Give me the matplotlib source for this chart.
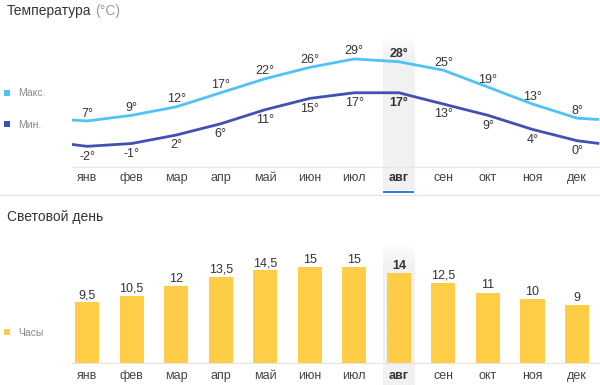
import numpy as np
import matplotlib
matplotlib.use("Agg")
import matplotlib.pyplot as plt
from matplotlib.patches import Rectangle
from matplotlib.text import Annotation

plt.rcParams['font.family'] = ['Liberation Sans', 'DejaVu Sans']

months = ['янв', 'фев', 'мар', 'апр', 'май', 'июн', 'июл', 'авг', 'сен', 'окт', 'ноя', 'дек']
t_max = [7, 9, 12, 17, 22, 26, 29, 28, 25, 19, 13, 8]
t_min = [-2, -1, 2, 6, 11, 15, 17, 17, 13, 9, 4, 0]
daylight = [9.5, 10.5, 12, 13.5, 14.5, 15, 15, 14, 12.5, 11, 10, 9]
daylight_labels = ['9,5', '10,5', '12', '13,5', '14,5', '15', '15', '14', '12,5', '11', '10', '9']
highlight = 7  # август

W, H = 600, 385
fig = plt.figure(figsize=(6, 3.85), dpi=100)

def fy(py):
    return 1 - py / H

C_MAX = '#4fc3f7'
C_MIN = '#3f51b5'
C_BAR = '#ffcd46'
C_TXT = '#333333'
C_LEG = '#8a8a8a'
C_GRID = '#e6e6e6'
C_HL = '#f1f1f1'

x = np.arange(12)
xl = (-0.3367, 11.515)

def add_highlight(ax, y0, y1, fade):
    img = np.ones((100, 1, 4))
    img[..., :3] = matplotlib.colors.to_rgb(C_HL)
    img[:, 0, 3] = np.clip(np.linspace(0, 1, 100) / fade, 0, 1)
    ax.imshow(img, extent=(highlight - 0.35, highlight + 0.35, y1, y0), origin='upper',
              aspect='auto', zorder=0, interpolation='bilinear')

# ---------- Temperature ----------
ax = fig.add_axes([72 / W, fy(196), 528 / W, (196 - 38) / H])
ax.set_xlim(*xl)
ylo, yhi = (140.7 - 196) / 2.82, (140.7 - 38) / 2.82
ax.set_ylim(ylo, yhi)
ax.axis('off')

t_axis = (140.7 - 167) / 2.82
t_lab = (140.7 - 181) / 2.82
t_ul0, t_ul1 = (140.7 - 193) / 2.82, (140.7 - 190.5) / 2.82

add_highlight(ax, yhi, t_ul1, 0.12)
ax.axhline(t_axis, color=C_GRID, lw=0.9, zorder=1)
ax.add_patch(Rectangle((highlight - 0.35, t_ul0), 0.7, t_ul1 - t_ul0, color='#2f80e0', lw=0, zorder=3))

xe = np.concatenate([[-0.5], x, [11.5]])
edge_max = (t_max[0] + t_max[-1]) / 2
edge_min = (t_min[0] + t_min[-1]) / 2
ax.plot(xe, [edge_max] + t_max + [edge_max], color=C_MAX, lw=2, zorder=4, solid_capstyle='butt')
ax.plot(xe, [edge_min] + t_min + [edge_min], color=C_MIN, lw=2, zorder=4, solid_capstyle='butt')

for i in range(12):
    bold = 'bold' if i == highlight else 'normal'
    ax.annotate(f'{t_max[i]}°', (x[i], t_max[i]), xytext=(0, 3.2), textcoords='offset points',
                ha='center', va='baseline', fontsize=9, color=C_TXT, fontweight=bold, zorder=5)
    ax.annotate(f'{t_min[i]}°', (x[i], t_min[i]), xytext=(0, -9.6), textcoords='offset points',
                ha='center', va='baseline', fontsize=9, color=C_TXT, fontweight=bold, zorder=5)
    ax.text(x[i], t_lab, months[i], ha='center', va='baseline', fontsize=9,
            color=C_TXT if i == highlight else '#444444', fontweight=bold, zorder=5)

# separator
fig.add_artist(plt.Line2D([0, 1], [fy(194.5), fy(194.5)], color=C_GRID, lw=1))

title = fig.text(7 / W, fy(15), 'Температура', fontsize=10, color=C_TXT, va='baseline', ha='left')
fig.add_artist(Annotation('(°C)', xy=(1, 0), xycoords=title, xytext=(4, 0),
                          textcoords='offset pixels', fontsize=10, color='#9a9a9a',
                          va='bottom', ha='left'))

# legend
fig.patches.append(Rectangle((4 / W, fy(96)), 6 / W, 6 / H, transform=fig.transFigure, color=C_MAX, lw=0))
fig.text(18 / W, fy(96.5), 'Макс.', fontsize=7.5, color=C_LEG, va='baseline')
fig.patches.append(Rectangle((4 / W, fy(127)), 6 / W, 6 / H, transform=fig.transFigure, color=C_MIN, lw=0))
fig.text(18 / W, fy(127.5), 'Мин.', fontsize=7.5, color=C_LEG, va='baseline')

# ---------- Daylight ----------
ax2 = fig.add_axes([72 / W, 0, 528 / W, (385 - 240) / H])
ax2.set_xlim(*xl)
hlo, hhi = (363 - 385) / 6.4, (363 - 240) / 6.4
ax2.set_ylim(hlo, hhi)
ax2.axis('off')

add_highlight(ax2, (363 - 243) / 6.4, hlo, 0.15)
ax2.axhline(0, color=C_GRID, lw=0.9, zorder=1)
ax2.bar(x, daylight, width=0.54, color=C_BAR, zorder=2)
h_lab = (363 - 379) / 6.4
for i in range(12):
    bold = 'bold' if i == highlight else 'normal'
    ax2.annotate(daylight_labels[i], (x[i], daylight[i]), xytext=(0, 3), textcoords='offset points',
                 ha='center', va='baseline', fontsize=9, color=C_TXT, fontweight=bold, zorder=5)
    ax2.text(x[i], h_lab, months[i], ha='center', va='baseline', fontsize=9,
             color=C_TXT if i == highlight else '#444444', fontweight=bold, zorder=5)

fig.text(7 / W, fy(221.5), 'Световой день', fontsize=10, color=C_TXT, va='baseline', ha='left')
fig.patches.append(Rectangle((4 / W, fy(335)), 6 / W, 6 / H, transform=fig.transFigure, color=C_BAR, lw=0))
fig.text(18 / W, fy(335.5), 'Часы', fontsize=7.5, color=C_LEG, va='baseline')

fig.savefig('out.png', dpi=100)
